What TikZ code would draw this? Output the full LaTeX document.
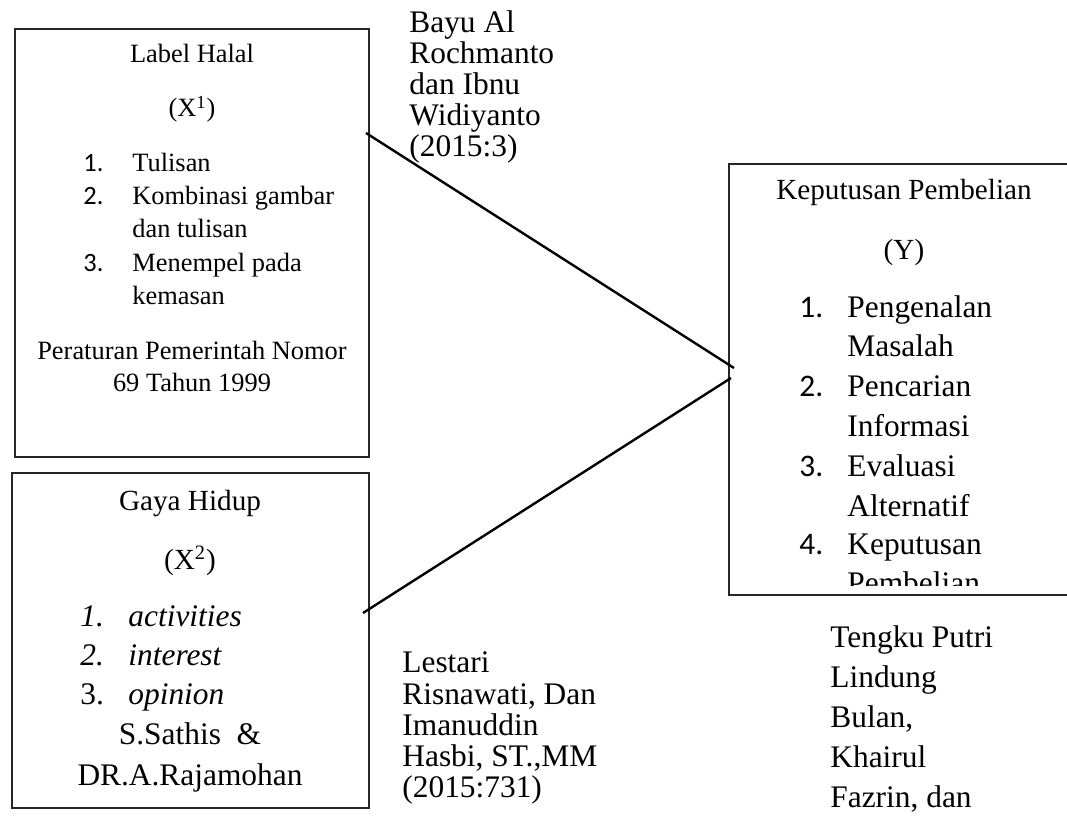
\documentclass[tikz,border=0pt]{standalone}
\usepackage{fontspec}
\setmainfont{Liberation Serif}
\newfontfamily\numfont{Carlito}
\tikzset{
  box/.style={draw=black!85, line width=0.6pt, inner sep=0pt},
  conn/.style={line width=1.2pt},
  small/.style={font=\fontsize{13.2}{16}\selectfont, inner sep=0pt, anchor=base},
  head/.style={font=\fontsize{14.6}{17}\selectfont, inner sep=0pt, anchor=base},
  big/.style={font=\fontsize{15.7}{19}\selectfont, inner sep=0pt, anchor=base west},
}
\begin{document}
\begin{tikzpicture}[x=0.5pt, y=-0.5pt]
      \useasboundingbox (0,0) rectangle (1067,823);
      \clip (0,0) rectangle (1067,823);
      % boxes
      \node[box, minimum width=177pt, minimum height=214pt] (lh) at (192,243) {};
      \node[box, minimum width=178.5pt, minimum height=167.5pt] (gh) at (190.5,640.5) {};
      \node[box, minimum width=175.5pt, minimum height=215.5pt] (kp) at (904.5,379.5) {};
      % label halal
      \draw
        (192,63) node[small] (lh0){Label Halal}
        (192,117) node[small] (lh1){(X\textsuperscript{1})}
        (83,172) node[small, anchor=base west] (ln1){\numfont 1.}
        (132,172) node[small, anchor=base west] (lt1){Tulisan}
        (83,205) node[small, anchor=base west] (ln2){\numfont 2.}
        (132,205) node[small, anchor=base west] (lt2){Kombinasi gambar}
        (132,238) node[small, anchor=base west] (lt3){dan tulisan}
        (83,272) node[small, anchor=base west] (ln3){\numfont 3.}
        (132,272) node[small, anchor=base west] (lt4){Menempel pada}
        (132,305) node[small, anchor=base west] (lt5){kemasan}
        (192,360) node[small] (lp1){Peraturan Pemerintah Nomor}
        (192,392) node[small] (lp2){69 Tahun 1999};
      % gaya hidup
      \draw
        (190,511) node[head] (gh0){Gaya Hidup}
        (190,570) node[head] (gh1){(X\textsuperscript{2})}
        (80,627) node[big] (gn1){\itshape 1.}
        (128,627) node[big] (gt1){\itshape activities}
        (80,666) node[big] (gn2){\itshape 2.}
        (128,666) node[big] (gt2){\itshape interest}
        (80,705) node[big] (gn3){3.}
        (128,705) node[big] (gt3){\itshape opinion}
        (190,745) node[big, anchor=base] (gs1){S.Sathis~ \&}
        (190,785) node[big, anchor=base] (gs2){DR.A.Rajamohan};
      % keputusan pembelian
      \draw
        (904,200) node[head] (kp0){Keputusan Pembelian}
        (904,260) node[head] (kp1){(Y)}
        (799,318) node[big] (kn1){\numfont 1.}
        (847,318) node[big] (kt1){Pengenalan}
        (847,357) node[big] (kt2){Masalah}
        (799,397) node[big] (kn2){\numfont 2.}
        (847,397) node[big] (kt3){Pencarian}
        (847,437) node[big] (kt4){Informasi}
        (799,477) node[big] (kn3){\numfont 3.}
        (847,477) node[big] (kt5){Evaluasi}
        (847,517) node[big] (kt6){Alternatif}
        (799,555) node[big] (kn4){\numfont 4.}
        (847,555) node[big] (kt7){Keputusan};
      \begin{scope}
        \clip (729,164) rectangle (1080,586);
        \node[big] (kt8) at (847,594) {Pembelian};
      \end{scope}
      % sumber
      \draw
        (409,33) node[big] (s1){Bayu Al}
        (409,64) node[big] (s2){Rochmanto}
        (409,95) node[big] (s3){dan Ibnu}
        (409,126) node[big] (s4){Widiyanto}
        (409,157) node[big] (s5){(2015:3)}
        (402,673) node[big] (r1){Lestari}
        (402,705) node[big] (r2){Risnawati, Dan}
        (402,736) node[big] (r3){Imanuddin}
        (402,767) node[big] (r4){Hasbi, ST.,MM}
        (402,798) node[big] (r5){(2015:731)}
        (830,648) node[big] (t1){Tengku Putri}
        (830,688) node[big] (t2){Lindung}
        (830,728) node[big] (t3){Bulan,}
        (830,768) node[big] (t4){Khairul}
        (830,808) node[big] (t5){Fazrin, dan};
      % connectors
      \coordinate (a1) at (366,133);
      \coordinate (a2) at (734,368);
      \coordinate (b1) at (363,613);
      \coordinate (b2) at (731,378);
      \begin{scope}[conn]
        \draw (a1) to (a2);
        \draw (b1) to (b2);
      \end{scope}
    \end{tikzpicture}
\end{document}
